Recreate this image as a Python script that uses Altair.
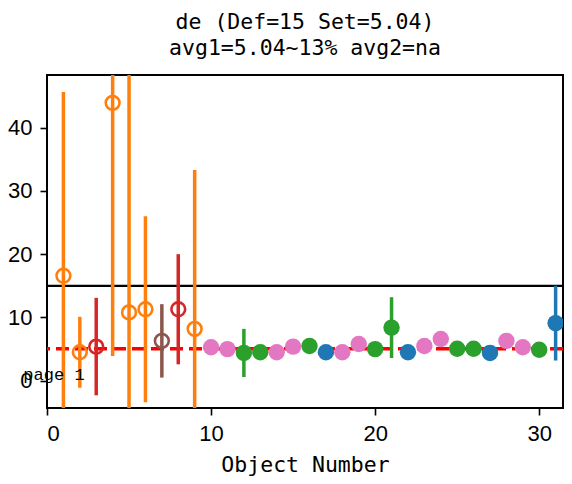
import altair as alt
import pandas as pd

# ---- data ----
obj_x = list(range(1, 32))
obj_y = [16.6, 4.5, 5.4, 43.9, 10.8, 11.3, 6.3, 11.3, 8.2,
         5.3, 5.0, 4.4, 4.5, 4.5, 5.4, 5.5, 4.5, 4.5, 5.8, 5.0,
         8.4, 4.5, 5.5, 6.6, 5.05, 5.05, 4.4, 6.3, 5.3, 4.9, 9.1]
obj_err = [29.0, 5.6, 7.7, 40.0, 40.0, 14.7, 5.8, 8.7, 25.1,
           0, 0, 3.8, 0, 0, 0, 0, 0, 0, 0, 0,
           4.8, 0, 0, 0, 0, 0, 0, 0, 0, 0, 5.9]
obj_grp = ["orange", "orange", "red", "orange", "orange", "orange", "brown", "red", "orange",
           "pink", "pink", "green", "green", "pink", "pink", "green", "blue", "pink", "pink", "green",
           "green", "blue", "pink", "pink", "green", "green", "blue", "pink", "pink", "green", "blue"]
obj_open = [True] * 9 + [False] * 22

grp_names = ["orange", "red", "brown", "pink", "green", "blue"]
grp_colors = ["#ff7f0e", "#d62728", "#8c564b", "#e377c2", "#2ca02c", "#1f77b4"]

def_value = 15
set_value = 5.04
page_label = "page 1"
page_pos = (-1.44, 0.16)

x_ticks = [0, 10, 20, 30]
y_ticks = [0, 10, 20, 30, 40]
x_domain = [0, 31.45]
y_domain = [-4.3, 48.3]

df = pd.DataFrame({
    "x": obj_x, "y": obj_y, "err": obj_err, "grp": obj_grp, "open": obj_open,
})
df["lo"] = df["y"] - df["err"]
df["hi"] = df["y"] + df["err"]

xs = alt.Scale(domain=x_domain, nice=False, zero=False)
ys = alt.Scale(domain=y_domain, nice=False, zero=False)
cs = alt.Scale(domain=grp_names, range=grp_colors)

X = alt.X("x:Q", scale=xs, title="Object Number",
          axis=alt.Axis(values=x_ticks, format="d"))
Y = alt.Y("y:Q", scale=ys, title=None,
          axis=alt.Axis(values=y_ticks, format="d"))

base = alt.Chart(df)

set_line = alt.Chart(pd.DataFrame({"v": [set_value]})).mark_rule(
    color="#ff0000", strokeWidth=3.5, strokeDash=[13, 6], clip=True
).encode(y=alt.Y("v:Q", scale=ys))

def_line = alt.Chart(pd.DataFrame({"v": [def_value]})).mark_rule(
    color="black", strokeWidth=2.2, clip=True
).encode(y=alt.Y("v:Q", scale=ys))

bars = base.transform_filter("datum.err > 0").mark_rule(strokeWidth=3.5, clip=True).encode(
    x=X,
    y=alt.Y("lo:Q", scale=ys),
    y2="hi:Q",
    color=alt.Color("grp:N", scale=cs, legend=None),
)

open_pts = base.transform_filter("datum.open").mark_point(
    shape="circle", filled=False, size=190, strokeWidth=2.6, opacity=1, clip=True
).encode(x=X, y=Y, color=alt.Color("grp:N", scale=cs, legend=None))

fill_pts = base.transform_filter("!datum.open").mark_circle(
    size=270, opacity=1, clip=True
).encode(x=X, y=Y, color=alt.Color("grp:N", scale=cs, legend=None))

page_txt = alt.Chart(pd.DataFrame({"x": [page_pos[0]], "y": [page_pos[1]], "t": [page_label]})).mark_text(
    font="Liberation Mono", fontSize=17, align="left", baseline="alphabetic", color="black"
).encode(x=alt.X("x:Q", scale=xs), y=alt.Y("y:Q", scale=ys), text="t:N")

chart = alt.layer(set_line, def_line, bars, open_pts, fill_pts, page_txt).properties(
    width=516,
    height=333,
    autosize=alt.AutoSizeParams(type="none"),
    padding={"left": 39, "top": 67, "right": 1, "bottom": 68},
    title=alt.Title(
        ["de (Def=15 Set=5.04)", "avg1=5.04~13% avg2=na"],
        font="DejaVu Sans Mono", fontSize=21.5, fontWeight="normal", color="black",
        lineHeight=26, anchor="middle", frame="group", offset=16,
    ),
).configure_view(
    stroke="black", strokeWidth=2
).configure_axis(
    grid=False, domain=False, tickColor="black", tickSize=7, tickWidth=1.6,
    labelFont="Liberation Sans", labelFontSize=22, labelColor="black",
    labelPadding=8, titleFont="DejaVu Sans Mono", titleFontSize=21.5,
    titleFontWeight="normal", titleColor="black", titlePadding=10,
)

chart.save("out.html", embed_options={"renderer": "svg", "actions": False})
